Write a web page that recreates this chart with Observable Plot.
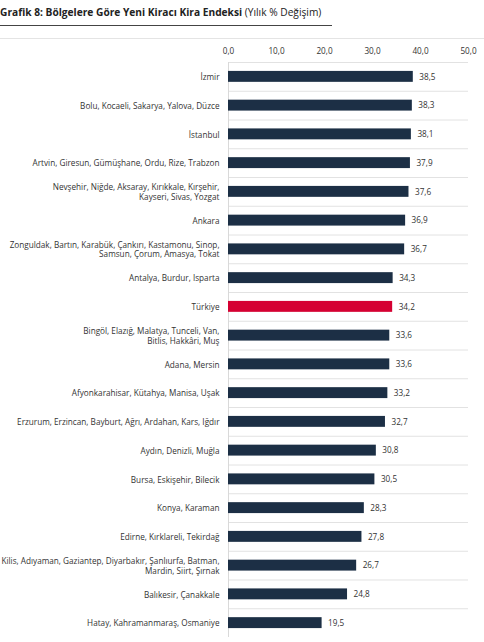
<!DOCTYPE html>
<html>
<head>
<meta charset="utf-8">
<script src="https://cdn.jsdelivr.net/npm/d3@7"></script>
<script src="https://cdn.jsdelivr.net/npm/@observablehq/plot@0.6"></script>
<style>
  body { margin: 0; background: #fff; font-family: "Open Sans", sans-serif; color: #222; }
  #title { font-size: 10.2px; padding: 5px 0 0 0; width: 332px; height: 26px; border-bottom: 1px solid #444; box-sizing: border-box; white-space: nowrap; }
  #title b { font-weight: 700; }
  #sep { margin-top: 12px; border-top: 1px solid #e4e4e4; }
  #chart svg { display: block; }
</style>
</head>
<body>
<div id="title"><b>Grafik 8: Bölgelere Göre Yeni Kiracı Kira Endeksi</b> (Yılık % Değişim)</div>
<div id="sep"></div>
<div id="chart"></div>
<script>
const regions = [
  "İzmir",
  "Bolu, Kocaeli, Sakarya, Yalova, Düzce",
  "İstanbul",
  "Artvin, Giresun, Gümüşhane, Ordu, Rize, Trabzon",
  "Nevşehir, Niğde, Aksaray, Kırıkkale, Kırşehir,\nKayseri, Sivas, Yozgat",
  "Ankara",
  "Zonguldak, Bartın, Karabük, Çankırı, Kastamonu, Sinop,\nSamsun, Çorum, Amasya, Tokat",
  "Antalya, Burdur, Isparta",
  "Türkiye",
  "Bingöl, Elazığ, Malatya, Tunceli, Van,\nBitlis, Hakkâri, Muş",
  "Adana, Mersin",
  "Afyonkarahisar, Kütahya, Manisa, Uşak",
  "Erzurum, Erzincan, Bayburt, Ağrı, Ardahan, Kars, Iğdır",
  "Aydın, Denizli, Muğla",
  "Bursa, Eskişehir, Bilecik",
  "Konya, Karaman",
  "Edirne, Kırklareli, Tekirdağ",
  "Kilis, Adıyaman, Gaziantep, Diyarbakır, Şanlıurfa, Batman,\nMardin, Siirt, Şırnak",
  "Balıkesir, Çanakkale",
  "Hatay, Kahramanmaraş, Osmaniye"
]
const values = [38.5, 38.3, 38.1, 37.9, 37.6, 36.9, 36.7, 34.3, 34.2, 33.6, 33.6, 33.2, 32.7, 30.8, 30.5, 28.3, 27.8, 26.7, 24.8, 19.5]
const xTicks = [0, 10, 20, 30, 40, 50]

const data = regions.map((r, i) => ({region: r, value: values[i]}))
const fmt = v => v.toFixed(1).replace(".", ",")

const H = 603, mTop = 23, mBottom = 5
const step = (H - mTop - mBottom) / regions.length
const pad = 0.62

let chart = Plot.plot({
  width: 484,
  height: H,
  marginTop: mTop,
  marginBottom: mBottom,
  marginLeft: 228,
  marginRight: 16,
  style: {fontFamily: "'Open Sans', sans-serif", fontSize: "8.2px", color: "#333", background: "#fff"},
  x: {domain: [0, 50], label: null},
  y: {domain: regions, paddingInner: pad, paddingOuter: pad / 2, round: false, label: null},
  marks: [
    Plot.ruleY(regions, {y: d => d, x1: 0, x2: 50, dy: -step / 2, stroke: "#e2e2e2"}),
    Plot.ruleX([0], {stroke: "#d9d9d9"}),
    Plot.barX(data, {
      x: "value",
      y: "region",
      fill: d => d.region === "Türkiye" ? "#d50032" : "#1c2f45"
    }),
    Plot.text(data, {
      x: "value",
      y: "region",
      text: d => fmt(d.value),
      textAnchor: "start",
      dx: 6,
      fill: "#333"
    }),
    Plot.axisX({anchor: "top", ticks: xTicks, tickFormat: fmt, tickSize: 0, tickPadding: 9, fill: "#333", label: null}),
    Plot.axisY({anchor: "left", tickSize: 0, tickPadding: 9, lineHeight: 1.2, fill: "#333", label: null})
  ]
})
d3.select('#chart').append(() => chart)
</script>
</body>
</html>
